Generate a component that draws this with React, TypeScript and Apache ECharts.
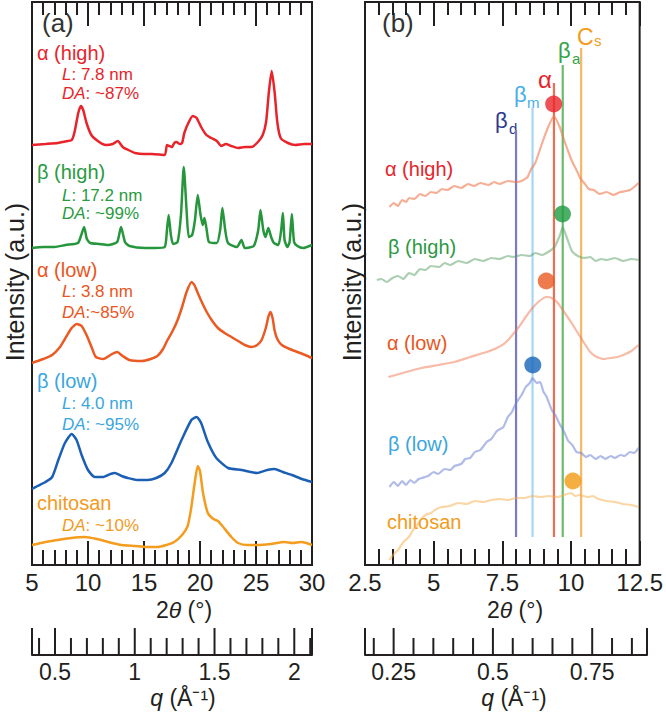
import React, { useEffect, useRef } from 'react';
import * as echarts from 'echarts';

const FONT = '"Liberation Sans", Arial, Helvetica, sans-serif';
const AXIS = '#231f20';

// ---------- Panel (a): 2θ (°) 5–30, stacked intensities (a.u.) ----------
const alphaHighA: [number, number][] = [
  [5.0, 42.0], [6.2, 42.1], [7.3, 42.2], [8.2, 42.4], [8.55, 42.5], [8.8, 43.3], [9.13, 45.2], [9.37, 45.9],
  [9.57, 45.5], [9.87, 44.2], [10.3, 43.0], [11.0, 42.3], [11.6, 42.0], [12.2, 42.1], [12.66, 42.4], [13.1, 41.8],
  [13.6, 41.5], [14.2, 41.2], [15.0, 41.1], [15.7, 41.1], [16.85, 41.0], [17.05, 42.0], [17.25, 41.9], [17.5, 41.8],
  [17.7, 42.2], [17.9, 42.3], [18.2, 42.1], [18.4, 42.2], [18.6, 43.2], [19.0, 44.3], [19.35, 44.9], [19.7, 44.7],
  [20.1, 43.8], [20.57, 43.0], [21.0, 42.7], [21.5, 42.4], [21.9, 41.9], [22.3, 42.1], [22.8, 41.9], [23.4, 41.7],
  [24.0, 41.8], [24.6, 41.8], [25.17, 42.3], [25.6, 43.0], [25.9, 44.3], [26.15, 47.3], [26.4, 49.4], [26.66, 47.3],
  [26.9, 44.3], [27.2, 42.7], [27.85, 42.2], [28.5, 42.0], [29.3, 42.1], [30.0, 42.1],
];
const betaHighA: [number, number][] = [
  [5.0, 31.7], [6.0, 31.8], [7.0, 31.8], [8.0, 32.0], [9.1, 32.2], [9.4, 33.0], [9.65, 33.8], [9.9, 32.6],
  [10.2, 32.2], [11.0, 32.1], [11.8, 32.0], [12.6, 32.3], [12.95, 33.8], [13.3, 32.3], [13.7, 31.9], [15.1, 31.7],
  [16.0, 31.7], [16.85, 31.8], [17.05, 33.5], [17.2, 35.0], [17.4, 33.0], [17.6, 32.1], [18.0, 32.3], [18.3, 35.0],
  [18.55, 39.8], [18.8, 35.5], [19.0, 32.8], [19.3, 33.0], [19.55, 34.5], [19.8, 37.0], [20.05, 35.0], [20.25, 34.0],
  [20.4, 34.7], [20.6, 33.5], [20.8, 32.3], [21.5, 32.2], [21.8, 33.5], [22.0, 35.7], [22.25, 33.5], [22.5, 32.2],
  [23.3, 31.8], [23.7, 32.5], [24.0, 31.7], [24.8, 31.9], [25.2, 33.5], [25.4, 35.5], [25.65, 33.5], [25.85, 32.8],
  [26.1, 33.7], [26.35, 32.8], [26.6, 32.2], [27.0, 32.0], [27.25, 33.5], [27.4, 35.2], [27.55, 32.5], [27.8, 31.8],
  [28.0, 32.3], [28.2, 35.1], [28.4, 32.3], [28.7, 31.9], [29.2, 31.7], [30.0, 32.0],
];
const alphaLowA: [number, number][] = [
  [5.0, 20.2], [6.0, 20.6], [6.8, 21.0], [7.5, 21.8], [7.94, 22.6], [8.54, 23.7], [9.0, 24.1], [9.43, 23.9],
  [9.87, 23.0], [10.35, 21.7], [10.7, 20.8], [11.35, 20.6], [12.15, 21.1], [12.6, 21.3], [13.1, 20.9], [13.7, 20.5],
  [14.8, 20.4], [15.6, 20.6], [16.2, 20.9], [16.7, 21.6], [17.1, 22.5], [17.6, 23.5], [18.0, 24.5], [18.4, 25.8],
  [18.8, 27.3], [19.25, 28.3], [19.5, 28.0], [19.8, 27.2], [20.2, 26.2], [20.6, 25.3], [21.1, 24.4], [21.6, 23.7],
  [22.2, 23.2], [22.8, 22.8], [23.4, 22.4], [24.0, 22.0], [24.6, 21.8], [25.1, 22.0], [25.5, 22.5], [25.9, 23.8],
  [26.1, 24.8], [26.3, 25.3], [26.5, 24.6], [26.65, 23.5], [26.9, 22.6], [27.3, 22.0], [28.0, 21.6], [28.7, 21.3],
  [29.4, 21.0], [30.0, 20.7],
];
const betaLowA: [number, number][] = [
  [5.0, 7.6], [5.5, 7.9], [6.2, 8.3], [6.8, 8.8], [7.35, 10.5], [7.94, 12.2], [8.55, 13.1], [8.98, 12.5],
  [9.43, 11.0], [10.0, 9.5], [10.6, 8.8], [11.3, 8.8], [12.0, 9.1], [12.4, 9.2], [13.0, 8.9], [13.55, 8.7],
  [14.4, 8.5], [15.3, 8.5], [16.1, 8.7], [16.85, 9.2], [17.45, 10.2], [18.35, 12.5], [19.23, 14.5], [19.7, 14.8],
  [20.1, 14.2], [20.7, 12.3], [21.46, 10.7], [22.5, 9.7], [23.7, 9.5], [25.1, 9.2], [26.0, 9.5], [26.65, 9.6],
  [27.4, 9.3], [28.2, 9.0], [29.1, 8.6], [30.0, 8.3],
];
const chitosanA: [number, number][] = [
  [5.0, 2.0], [6.2, 2.3], [7.3, 2.5], [8.5, 2.7], [9.7, 2.8], [10.8, 2.6], [11.8, 2.3], [13.0, 2.0],
  [14.2, 1.9], [15.2, 1.8], [16.2, 1.8], [17.0, 2.0], [17.7, 2.3], [18.4, 3.0], [18.9, 3.9], [19.2, 5.6],
  [19.5, 8.0], [19.8, 9.9], [20.0, 9.4], [20.27, 7.2], [20.7, 5.2], [21.2, 4.6], [21.6, 4.4], [22.0, 3.9],
  [22.8, 2.8], [23.4, 2.2], [24.2, 2.0], [25.1, 2.0], [26.3, 2.1], [27.5, 2.3], [28.3, 2.2], [29.0, 2.3],
  [29.5, 2.2], [30.0, 2.0],
];

// ---------- Panel (b): 2θ (°) 2.5–12.5 ----------
const alphaHighB: [number, number][] = [
  [3.39, 35.8], [3.55, 36.2], [3.7, 35.9], [3.85, 36.5], [4.0, 36.3], [4.1, 36.7], [4.3, 36.6], [4.5, 37.1],
  [4.7, 36.9], [4.9, 37.3], [5.1, 37.2], [5.3, 37.6], [5.5, 37.5], [5.75, 37.9], [6.0, 37.7], [6.25, 38.1],
  [6.47, 37.9], [6.7, 38.2], [7.0, 38.0], [7.2, 38.3], [7.4, 38.1], [7.7, 38.4], [8.0, 38.3], [8.2, 38.4],
  [8.42, 38.8], [8.55, 39.6], [8.7, 40.2], [8.95, 42.2], [9.17, 43.8], [9.38, 44.9], [9.59, 43.8], [9.75, 42.5],
  [9.88, 41.5], [10.05, 40.3], [10.2, 39.5], [10.35, 38.6], [10.48, 38.2], [10.65, 37.6], [10.83, 37.5], [11.05, 37.1],
  [11.3, 37.3], [11.55, 37.0], [11.8, 37.3], [12.0, 37.4], [12.15, 37.5], [12.3, 37.8], [12.46, 38.2],
];
const betaHighB: [number, number][] = [
  [2.93, 28.5], [3.1, 28.6], [3.3, 28.3], [3.5, 28.7], [3.7, 28.9], [3.9, 28.6], [4.1, 29.2], [4.3, 29.0],
  [4.5, 29.6], [4.7, 29.5], [4.9, 29.9], [5.2, 29.8], [5.4, 30.2], [5.6, 30.0], [5.9, 30.4], [6.2, 30.2],
  [6.5, 30.6], [6.8, 30.4], [7.1, 30.7], [7.4, 30.6], [7.7, 30.9], [7.9, 30.8], [8.2, 31.0], [8.5, 30.9],
  [8.7, 31.2], [8.95, 31.0], [9.17, 31.3], [9.4, 31.8], [9.6, 33.0], [9.7, 33.8], [9.8, 33.1], [9.88, 32.5],
  [10.0, 31.6], [10.06, 31.3], [10.25, 30.9], [10.48, 30.7], [10.7, 30.8], [10.9, 30.4], [11.1, 30.6], [11.3, 30.5],
  [11.6, 30.7], [11.9, 30.4], [12.2, 30.6], [12.46, 30.5],
];
const alphaLowB: [number, number][] = [
  [3.35, 18.8], [4.0, 19.3], [4.56, 19.7], [5.16, 20.0], [5.76, 20.3], [6.33, 20.8], [6.93, 21.3], [7.3, 21.7],
  [7.64, 22.3], [8.1, 23.8], [8.35, 24.8], [8.6, 25.7], [8.85, 26.4], [9.1, 26.8], [9.3, 26.7], [9.52, 26.2],
  [9.75, 25.3], [10.0, 24.3], [10.25, 23.2], [10.48, 22.2], [10.7, 21.3], [10.94, 20.8], [11.2, 20.6], [11.44, 20.7],
  [11.7, 20.8], [11.9, 21.0], [12.2, 21.4], [12.46, 22.0],
];
const betaLowB: [number, number][] = [
  [3.39, 7.8], [3.55, 8.3], [3.7, 7.9], [3.85, 8.4], [3.99, 8.0], [4.15, 8.5], [4.3, 8.2], [4.45, 8.6],
  [4.57, 8.7], [4.8, 8.9], [5.0, 9.3], [5.16, 9.1], [5.4, 9.6], [5.6, 9.5], [5.76, 9.9], [6.0, 10.1],
  [6.15, 10.6], [6.33, 10.7], [6.5, 11.3], [6.7, 11.5], [6.93, 12.3], [7.1, 12.6], [7.3, 13.4], [7.54, 13.8],
  [7.7, 14.8], [7.85, 15.3], [8.0, 16.2], [8.2, 17.0], [8.35, 17.8], [8.5, 18.2], [8.6, 18.7], [8.75, 18.2],
  [8.88, 18.3], [9.0, 17.3], [9.1, 16.9], [9.3, 15.5], [9.45, 14.9], [9.55, 14.3], [9.77, 13.2], [9.9, 12.4],
  [10.05, 12.0], [10.2, 11.3], [10.37, 11.2], [10.55, 10.8], [10.7, 11.0], [10.9, 10.6], [11.08, 10.9], [11.25, 10.6],
  [11.45, 10.9], [11.6, 10.7], [11.8, 11.0], [11.95, 10.9], [12.15, 11.3], [12.3, 11.2], [12.46, 11.7],
];
const chitosanB: [number, number][] = [
  [3.39, 0.5], [3.55, 1.1], [3.7, 1.5], [3.9, 2.3], [4.1, 2.8], [4.25, 3.5], [4.4, 4.0], [4.55, 4.6],
  [4.7, 5.0], [4.9, 5.2], [5.1, 5.6], [5.3, 5.8], [5.6, 5.9], [5.9, 6.2], [6.2, 6.1], [6.5, 6.4],
  [6.8, 6.3], [7.1, 6.5], [7.4, 6.6], [7.7, 6.5], [8.0, 6.7], [8.3, 6.7], [8.6, 6.9], [8.9, 6.8],
  [9.2, 6.9], [9.5, 6.8], [9.75, 7.0], [10.0, 7.2], [10.15, 6.9], [10.3, 7.0], [10.6, 6.8], [10.8, 6.9],
  [11.0, 6.6], [11.3, 6.4], [11.6, 6.3], [11.9, 6.1], [12.2, 6.0], [12.46, 5.8],
];

// reference positions (vertical lines) in panel (b)
const refPos = [8.0, 8.6, 9.38, 9.7, 10.37];
const refTop = [43.5, 45.8, 48.2, 50.0, 51.7];
const refBottom = 2.8;
const refColors = ['#7b7bc4', '#a9d5f5', '#ee6e52', '#6dbb6e', '#f7b764'];

// peak markers in panel (b)
const peakX = [9.37, 9.69, 9.1, 8.61, 10.07];
const peakY = [46.1, 35.1, 28.4, 20.0, 8.4];
const peakColors = ['#e8242b', '#1e9b3e', '#ea5a22', '#1565b8', '#f29a12'];

// axis ranges and ticks
const thetaRangeA = [5, 30];
const thetaRangeB = [2.5, 12.5];
const qRangeA = [0.3558, 2.1111];
const qRangeB = [0.1779, 0.888];
const qMajorA = [0.5, 1, 1.5, 2];
const qMinorA = [0.4, 0.6, 0.7, 0.8, 0.9, 1.1, 1.2, 1.3, 1.4, 1.6, 1.7, 1.8, 1.9, 2.1];
const qMajorB = [0.25, 0.5, 0.75];
const qMinorB = [0.2, 0.3, 0.35, 0.4, 0.45, 0.55, 0.6, 0.65, 0.7, 0.8, 0.85];

const RED = '#e8242b';
const GREEN = '#2a9a42';
const OREDT = '#ea5520';
const LBLUE = '#3aa6e0';
const ORANGE = '#f29b1d';

function mainX(gridIndex: number, range: number[], interval: number, position: string, showLabel: boolean, minorLen: number) {
  return {
    type: 'value', gridIndex, min: range[0], max: range[1], interval, position,
    axisLine: { show: false },
    axisTick: { show: true, inside: true, length: 24, lineStyle: { color: AXIS, width: 2 } },
    minorTick: { show: true, splitNumber: 5, length: minorLen, lineStyle: { color: AXIS, width: 2 } },
    splitLine: { show: false },
    minorSplitLine: { show: false },
    axisLabel: { show: showLabel, fontSize: 24, color: AXIS, fontFamily: FONT, margin: 5 },
  };
}

function qX(gridIndex: number, range: number[], labels: number[]) {
  return {
    type: 'value', gridIndex, min: range[0], max: range[1], position: 'bottom',
    axisLine: { show: true, lineStyle: { color: AXIS, width: 2 } },
    axisTick: { show: false },
    splitLine: { show: false },
    axisLabel: { show: true, customValues: labels, fontSize: 23, color: AXIS, fontFamily: FONT, margin: 5 },
  };
}

// q-axis ticks drawn through the q scale: [value, isMajor]
function qTickSeries(xAxisIndex: number, yAxisIndex: number, range: number[], major: number[], minor: number[]) {
  const data = [
    ...minor.map((v) => [v, 0]),
    ...[range[0], ...major, range[1]].map((v) => [v, 1]),
  ];
  return {
    type: 'custom', xAxisIndex, yAxisIndex, data, clip: false, silent: true, z: 4,
    renderItem: (_p: any, api: any) => {
      const pt = api.coord([api.value(0), 0]);
      const len = api.value(1) ? 27 : 17;
      return {
        type: 'line',
        shape: { x1: pt[0], y1: pt[1], x2: pt[0], y2: pt[1] - len },
        style: { stroke: AXIS, lineWidth: 2 },
      };
    },
  };
}

function txt(x: number, y: number, text: string, fill: string, fontSize: number, extra: any = {}) {
  return {
    type: 'text', x, y, silent: true, ...extra,
    style: {
      text, fill, fontSize, fontFamily: FONT, lineHeight: Math.round(fontSize * 0.9),
      align: extra.align || 'left', textAlign: extra.align || 'left',
      verticalAlign: 'middle', textVerticalAlign: 'middle',
    },
  };
}

function richTxt(x: number, y: number, it: string, rest: string, fill: string, fontSize: number) {
  const lh = Math.round(fontSize * 0.85);
  return {
    type: 'text', x, y, silent: true,
    style: {
      text: `{i|${it}}{n|${rest}}`, fill, fontSize, fontFamily: FONT, lineHeight: lh,
      align: 'left', textAlign: 'left', verticalAlign: 'middle', textVerticalAlign: 'middle',
      rich: {
        i: { fontStyle: 'italic', fill, fontSize, fontFamily: FONT, lineHeight: lh },
        n: { fill, fontSize, fontFamily: FONT, lineHeight: lh },
      },
    },
  };
}

function centeredRich(x: number, y: number, text: string, fontSize: number) {
  return {
    type: 'text', x, y, silent: true,
    style: {
      text, fill: AXIS, fontSize, fontFamily: FONT,
      align: 'center', textAlign: 'center', verticalAlign: 'middle', textVerticalAlign: 'middle',
      rich: {
        i: { fontStyle: 'italic', fill: AXIS, fontSize, fontFamily: FONT },
        n: { fill: AXIS, fontSize, fontFamily: FONT },
      },
    },
  };
}

function lineA(data: [number, number][], color: string) {
  return {
    type: 'line', xAxisIndex: 0, yAxisIndex: 0, data, symbol: 'none', smooth: 0.2,
    lineStyle: { color, width: 2.5 }, z: 3,
  };
}
function lineB(data: [number, number][], color: string, opacity: number) {
  return {
    type: 'line', xAxisIndex: 2, yAxisIndex: 1, data, symbol: 'none', smooth: 0.15,
    lineStyle: { color, width: 2.2, opacity }, z: 3,
  };
}

export default function App() {
  const ref = useRef<HTMLDivElement>(null);
  useEffect(() => {
    document.body.style.margin = '0';
    if (!ref.current) return;
    const chart = echarts.init(ref.current, null, { renderer: 'svg' });

    const refSeries = refPos.map((x, i) => ({
      type: 'line', xAxisIndex: 2, yAxisIndex: 1, symbol: 'none',
      data: [[x, refBottom], [x, refTop[i]]],
      lineStyle: { color: refColors[i], width: 2.2 }, z: 2,
    }));

    const option: any = {
      animation: false,
      grid: [
        { left: 32, top: 2, width: 280, height: 563, show: true, borderColor: AXIS, borderWidth: 2, backgroundColor: 'transparent' },
        { left: 365, top: 2, width: 282, height: 563, show: true, borderColor: AXIS, borderWidth: 2, backgroundColor: 'transparent' },
        { left: 32, top: 600, width: 280, height: 55 },
        { left: 365, top: 600, width: 282, height: 55 },
      ],
      xAxis: [
        mainX(0, thetaRangeA, 5, 'bottom', true, 15),
        mainX(0, thetaRangeA, 5, 'top', false, 13),
        mainX(1, thetaRangeB, 2.5, 'bottom', true, 16),
        mainX(1, thetaRangeB, 2.5, 'top', false, 13),
        qX(2, qRangeA, qMajorA),
        qX(3, qRangeB, qMajorB),
      ],
      yAxis: [
        { type: 'value', gridIndex: 0, min: 0, max: 56.3, show: false },
        { type: 'value', gridIndex: 1, min: 0, max: 56.3, show: false },
        { type: 'value', gridIndex: 2, min: 0, max: 1, show: false },
        { type: 'value', gridIndex: 3, min: 0, max: 1, show: false },
      ],
      series: [
        lineA(alphaHighA, '#e8232a'),
        lineA(betaHighA, '#26963c'),
        lineA(alphaLowA, '#ea5a22'),
        lineA(betaLowA, '#1a5fb4'),
        lineA(chitosanA, '#f39c1e'),
        ...refSeries,
        lineB(alphaHighB, '#ee7a50', 0.6),
        lineB(betaHighB, '#5aa066', 0.5),
        lineB(alphaLowB, '#f07850', 0.5),
        lineB(betaLowB, '#6f83d3', 0.55),
        lineB(chitosanB, '#f5ae4a', 0.5),
        {
          type: 'scatter', xAxisIndex: 2, yAxisIndex: 1, symbolSize: 17, z: 5,
          data: peakX.map((x, i) => ({ value: [x, peakY[i]], itemStyle: { color: peakColors[i] } })),
        },
        qTickSeries(4, 2, qRangeA, qMajorA, qMinorA),
        qTickSeries(5, 3, qRangeB, qMajorB, qMinorB),
      ],
      graphic: [
        txt(42, 23, '(a)', '#333', 26),
        txt(37, 53, 'α (high)', RED, 20),
        richTxt(62, 74, 'L', ': 7.8 nm', RED, 17),
        richTxt(62, 93, 'DA', ': ~87%', RED, 17),
        txt(37, 172, 'β (high)', GREEN, 20),
        richTxt(62, 195, 'L', ': 17.2 nm', GREEN, 17),
        richTxt(62, 213, 'DA', ': ~99%', GREEN, 17),
        txt(37, 270, 'α (low)', OREDT, 20),
        richTxt(62, 291, 'L', ': 3.8 nm', OREDT, 17),
        richTxt(62, 312, 'DA', ':~85%', OREDT, 17),
        txt(37, 381, 'β (low)', LBLUE, 20),
        richTxt(62, 403, 'L', ': 4.0 nm', LBLUE, 17),
        richTxt(62, 424, 'DA', ': ~95%', LBLUE, 17),
        txt(37, 503, 'chitosan', ORANGE, 20),
        richTxt(62, 525, 'DA', ': ~10%', ORANGE, 17),

        txt(382, 23, '(b)', '#333', 26),
        txt(385, 169, 'α (high)', RED, 20),
        txt(388, 247, 'β (high)', GREEN, 20),
        txt(387, 343, 'α (low)', OREDT, 20),
        txt(388, 444, 'β (low)', LBLUE, 20),
        txt(387, 522, 'chitosan', ORANGE, 20),

        txt(495, 120, 'β', '#2b3a8f', 22),
        txt(509, 128, 'd', '#2b3a8f', 15),
        txt(514, 94, 'β', '#47aee8', 22),
        txt(527, 102, 'm', '#47aee8', 15),
        txt(538, 79, 'α', RED, 24),
        txt(558, 50, 'β', '#35a347', 22),
        txt(572, 58, 'a', '#35a347', 15),
        txt(577, 37, 'C', ORANGE, 23),
        txt(594, 40, 's', ORANGE, 15),

        txt(15, 282, 'Intensity (a.u.)', AXIS, 25, { rotation: Math.PI / 2, align: 'center' }),
        txt(352, 282, 'Intensity (a.u.)', AXIS, 25, { rotation: Math.PI / 2, align: 'center' }),

        centeredRich(184, 610, '{n|2}{i|θ}{n| (°)}', 23),
        centeredRich(515, 610, '{n|2}{i|θ}{n| (°)}', 23),
        centeredRich(183, 698, '{i|q}{n| (Å⁻¹)}', 23),
        centeredRich(514, 698, '{i|q}{n| (Å⁻¹)}', 23),
      ],
    };
    chart.setOption(option);
    return () => chart.dispose();
  }, []);
  return <div ref={ref} style={{ position: 'absolute', left: 0, top: 0, width: 666, height: 715 }} />;
}
